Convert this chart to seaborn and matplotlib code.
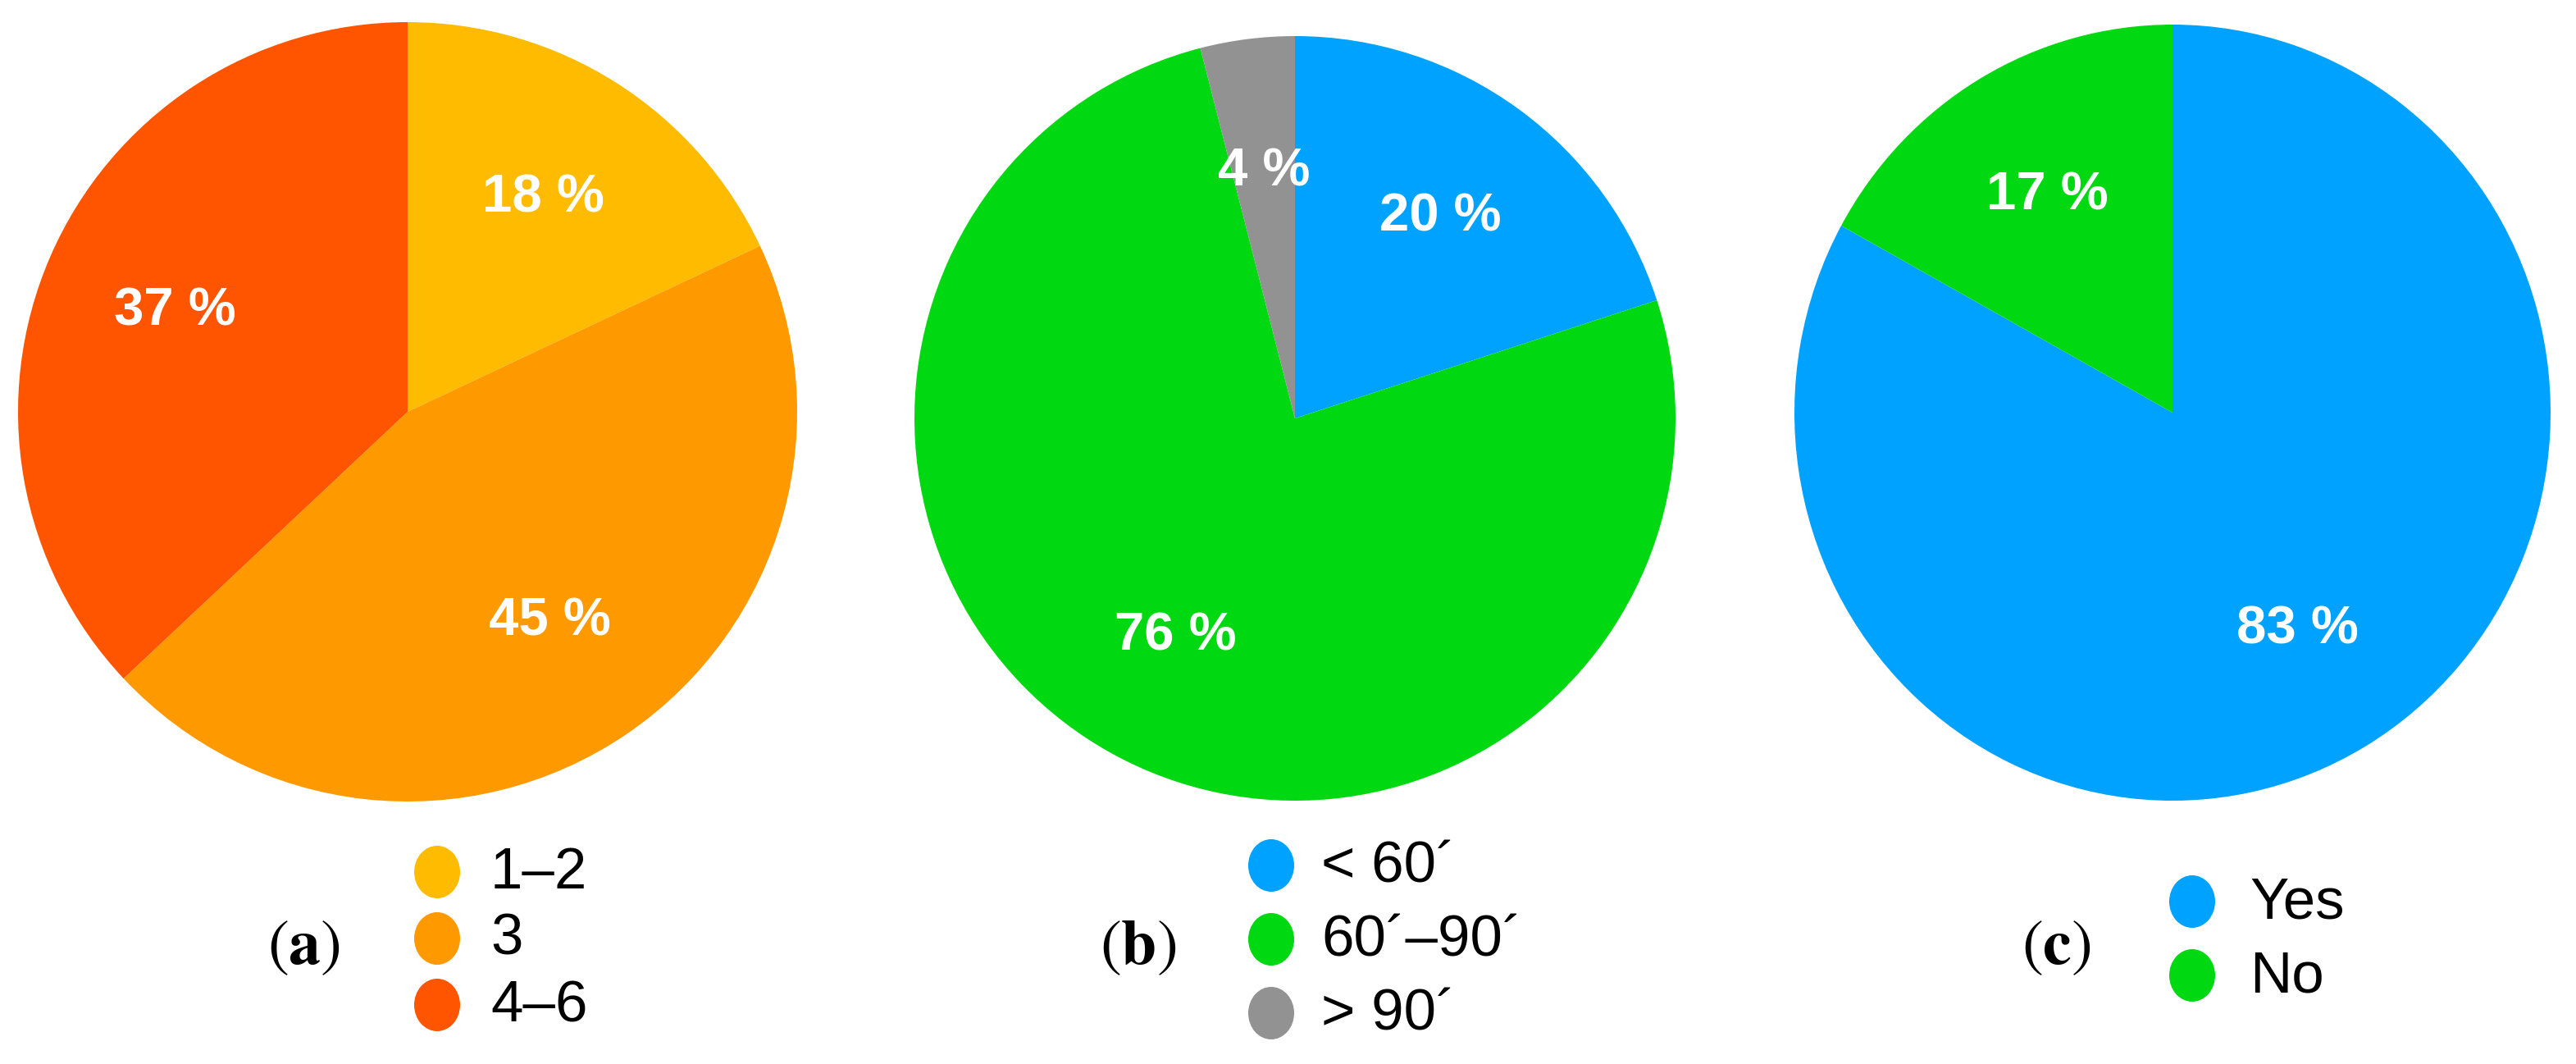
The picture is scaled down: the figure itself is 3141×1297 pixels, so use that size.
"""Three pie charts (a) lessons per week, (b) lesson length, (c) yes/no."""

import matplotlib
matplotlib.use("Agg")
import matplotlib.pyplot as plt
from matplotlib.patches import Ellipse
import seaborn as sns

W, H = 3141, 1297

# --- data -----------------------------------------------------------------
A_LABELS = ["1–2", "3", "4–6"]
A_VALUES = [18, 45, 37]
A_COLORS = ["#FFBB00", "#FF9900", "#FF5500"]

B_LABELS = ["< 60´", "60´–90´", "> 90´"]
B_VALUES = [20, 76, 4]
B_COLORS = ["#00A2FF", "#00D812", "#929292"]

C_LABELS = ["Yes", "No"]
C_VALUES = [83, 17]
C_COLORS = ["#00A2FF", "#00D812"]

PANELS = ["a", "b", "c"]

# layout in pixels: pie centre / radii, legend marker x, text x, first row y, tag x
LAYOUT = {
    "a": dict(cx=497, cy=502, rx=475, ry=475, mx=533, tx=598, y0=1063, tag=370),
    "b": dict(cx=1579, cy=510, rx=464, ry=466, mx=1550, tx=1611, y0=1055, tag=1388),
    "c": dict(cx=2649, cy=503, rx=461, ry=473, mx=2673, tx=2743, y0=1099, tag=2507),
}
ROW_STEP = {"a": 81, "b": 90, "c": 90}

sns.set_theme(style="white")
plt.rcParams["font.family"] = ["Liberation Sans", "DejaVu Sans"]
plt.rcParams["mathtext.fontset"] = "stix"

fig = plt.figure(figsize=(W / 100, H / 100), dpi=100)
fig.patch.set_facecolor("white")

overlay = fig.add_axes([0, 0, 1, 1], zorder=5)
overlay.set_xlim(0, W)
overlay.set_ylim(H, 0)
overlay.axis("off")
overlay.patch.set_alpha(0)

data = {
    "a": (A_LABELS, A_VALUES, A_COLORS),
    "b": (B_LABELS, B_VALUES, B_COLORS),
    "c": (C_LABELS, C_VALUES, C_COLORS),
}

for key in PANELS:
    labels, values, colors = data[key]
    lay = LAYOUT[key]
    ax = fig.add_axes([(lay["cx"] - lay["rx"]) / W,
                       1 - (lay["cy"] + lay["ry"]) / H,
                       2 * lay["rx"] / W, 2 * lay["ry"] / H])
    pal = sns.color_palette(colors)
    _, _, autotexts = ax.pie(values, colors=pal, startangle=90, counterclock=False,
                             autopct=lambda p: f"{p:.0f} %", pctdistance=0.65,
                             wedgeprops=dict(linewidth=0))
    for t in autotexts:
        t.set_color("white")
        t.set_fontsize(47)
        t.set_fontweight("bold")
    ax.set_aspect("auto")
    ax.set_xlim(-1, 1)
    ax.set_ylim(-1, 1)
    ax.axis("off")

    # legend drawn by hand: oval markers + labels
    for i, (lab, col) in enumerate(zip(labels, pal)):
        y = lay["y0"] + i * ROW_STEP[key]
        overlay.add_patch(Ellipse((lay["mx"], y), 56, 64, color=col, lw=0))
        overlay.text(lay["tx"], y + 2, lab, fontsize=51, va="center", ha="left",
                     color="black")

    overlay.text(lay["tag"], 1155, rf"$(\mathbf{{{key}}})$", fontsize=56,
                 ha="center", va="center", color="black")

fig.savefig("out.png", dpi=100, facecolor="white")
plt.close(fig)
